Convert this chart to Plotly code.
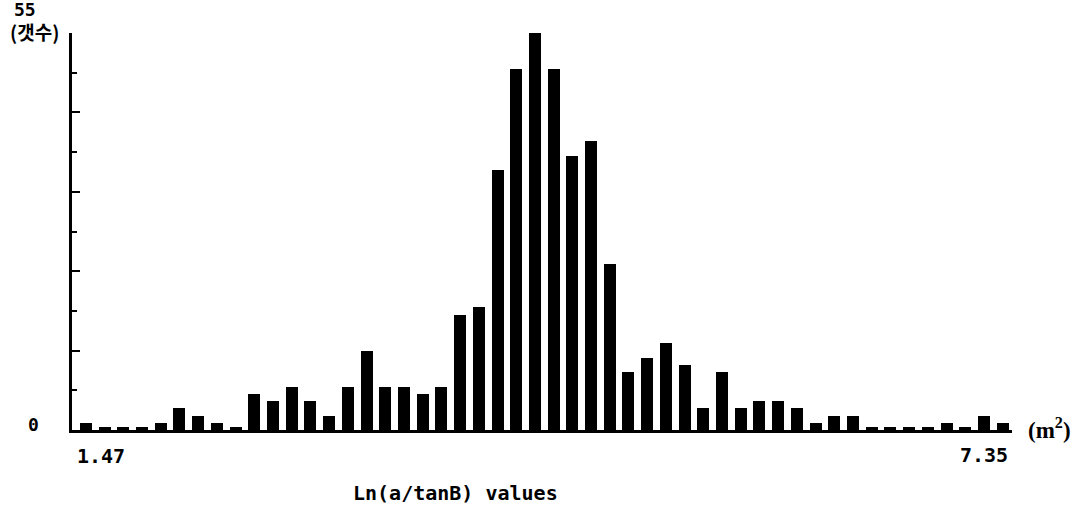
import numpy as np
import plotly.graph_objects as go

# Histogram of Ln(a/tanB): 50 bins between the two end labels
x_min_label = "1.47"
x_max_label = "7.35"
bin_count = 50
counts = [
    1, 0.4, 0.4, 0.4, 1, 3, 2, 1, 0.4, 5,
    4, 6, 4, 2, 6, 11, 6, 6, 5, 6,
    16, 17, 36, 50, 55, 50, 38, 40, 23, 8,
    10, 12, 9, 3, 8, 3, 4, 4, 3, 1,
    2, 2, 0.4, 0.4, 0.4, 0.4, 1, 0.4, 2, 1,
]
y_max = 55
y_unit = "(갯수)"
x_unit = "(m<sup>2</sup>)"
x_title = "Ln(a/tanB) values"

x_lo, x_hi = float(x_min_label), float(x_max_label)
edges = np.linspace(x_lo, x_hi, bin_count + 1)
centers = (edges[:-1] + edges[1:]) / 2
bin_w = edges[1] - edges[0]

mono = dict(family="DejaVu Sans Mono", color="black")

fig = go.Figure(
    go.Bar(
        x=centers,
        y=counts,
        width=bin_w * 0.64,
        marker=dict(color="black", line=dict(width=0)),
        hoverinfo="skip",
    )
)

fig.update_layout(
    width=1082,
    height=507,
    margin=dict(l=72, r=70, t=33, b=77),
    paper_bgcolor="white",
    plot_bgcolor="white",
    showlegend=False,
    bargap=0,
)

fig.update_xaxes(
    range=[x_lo - 0.245 * bin_w, x_hi],
    showline=True,
    linecolor="black",
    linewidth=3,
    showgrid=False,
    zeroline=False,
    ticks="",
    showticklabels=False,
)
fig.update_yaxes(
    range=[0, y_max],
    showline=True,
    linecolor="black",
    linewidth=3,
    showgrid=False,
    zeroline=False,
    tickmode="linear",
    tick0=0,
    dtick=y_max / 5,
    ticks="inside",
    ticklen=8,
    tickwidth=2,
    tickcolor="black",
    minor=dict(dtick=y_max / 10, ticks="inside", ticklen=5, tickwidth=2, tickcolor="black"),
    showticklabels=False,
)

annotations = [
    dict(text=f"<b>{y_max}</b>", x=0, y=1, xshift=-47, yshift=24,
         font=dict(size=18, **mono)),
    dict(text=f"<b>{y_unit}</b>", x=0, y=1, xshift=-38, yshift=2,
         font=dict(size=19, family="Noto Sans CJK KR", color="black")),
    dict(text="<b>0</b>", x=0, y=0, xshift=-39, yshift=6,
         font=dict(size=18, **mono)),
    dict(text=f"<b>{x_min_label}</b>", x=0, y=0, xshift=3, yshift=-26,
         xanchor="left", font=dict(size=20, **mono)),
    dict(text=f"<b>{x_max_label}</b>", x=1, y=0, xshift=-2, yshift=-25,
         xanchor="right", font=dict(size=20, **mono)),
    dict(text=f"<b>{x_unit}</b>", x=1, y=0, xshift=14, yshift=2,
         xanchor="left", font=dict(size=23, family="Liberation Serif", color="black")),
    dict(text=f"<b>{x_title}</b>", x=0.4085, y=0, yshift=-63,
         font=dict(size=20, **mono)),
]
for a in annotations:
    a.setdefault("xanchor", "center")
    fig.add_annotation(xref="paper", yref="paper", showarrow=False,
                       yanchor="middle", **a)

fig.write_html("out.html")
